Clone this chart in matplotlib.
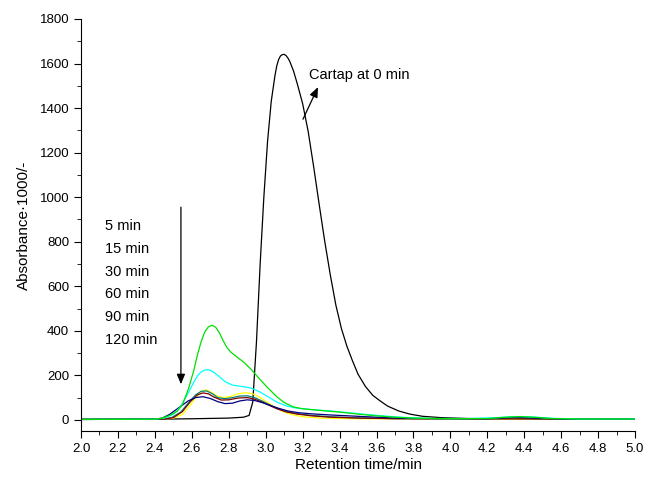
import matplotlib.pyplot as plt
from matplotlib.ticker import MultipleLocator

plt.rcParams["font.family"] = ["Liberation Sans", "DejaVu Sans"]

# Cartap at 0 min
t_0 = [2.0, 2.4, 2.6, 2.8, 2.88, 2.91, 2.93, 2.95, 2.97, 2.99, 3.01, 3.03, 3.05,
       3.06, 3.07, 3.08, 3.09, 3.10, 3.11, 3.12, 3.13, 3.15, 3.17, 3.20, 3.23,
       3.26, 3.29, 3.32, 3.35, 3.38, 3.41, 3.44, 3.47, 3.50, 3.54, 3.58, 3.62,
       3.66, 3.72, 3.78, 3.85, 3.95, 4.1, 4.5, 5.0]
a_0 = [3, 3, 5, 8, 12, 20, 80, 350, 700, 1000, 1250, 1430, 1545,
       1590, 1618, 1634, 1640, 1641, 1636, 1625, 1610, 1568, 1512, 1420, 1295,
       1135, 965, 800, 650, 515, 410, 330, 265, 205, 150, 110, 85,
       62, 40, 26, 16, 10, 6, 4, 3]

t_5 = [2.0, 2.4, 2.44, 2.48, 2.52, 2.55, 2.58, 2.61, 2.63, 2.65, 2.67, 2.69,
       2.71, 2.73, 2.75, 2.77, 2.79, 2.81, 2.84, 2.88, 2.92, 2.96, 3.01, 3.06,
       3.10, 3.15, 3.20, 3.30, 3.40, 3.50, 3.60, 3.70, 3.80, 4.0, 4.2, 4.3,
       4.38, 4.45, 4.55, 4.7, 5.0]
a_5 = [2, 3, 8, 20, 38, 70, 135, 220, 290, 350, 395, 418,
       425, 415, 390, 355, 325, 305, 285, 260, 228, 190, 145, 104,
       78, 58, 50, 42, 35, 26, 18, 12, 8, 5, 6, 12,
       15, 12, 6, 4, 4]

t_15 = [2.0, 2.4, 2.45, 2.50, 2.54, 2.58, 2.61, 2.63, 2.65, 2.67, 2.69, 2.71,
        2.74, 2.78, 2.82, 2.87, 2.92, 2.97, 3.01, 3.06, 3.11, 3.17, 3.25,
        3.35, 3.45, 3.55, 3.65, 3.75, 3.9, 4.1, 4.25, 4.35, 4.45, 4.55, 4.7,
        5.0]
a_15 = [2, 3, 8, 25, 60, 120, 168, 197, 215, 224, 225, 219,
        200, 172, 156, 150, 143, 125, 105, 80, 63, 52, 46,
        40, 32, 24, 17, 11, 6, 6, 10, 15, 13, 7, 4,
        4]

t_30 = [2.0, 2.45, 2.50, 2.55, 2.59, 2.62, 2.65, 2.68, 2.71, 2.74, 2.77, 2.81,
        2.85, 2.89, 2.93, 2.97, 3.01, 3.05, 3.10, 3.15, 3.2, 3.3, 3.5, 5.0]
a_30 = [2, 3, 8, 25, 65, 100, 128, 135, 122, 106, 100, 105,
        117, 122, 117, 100, 78, 57, 35, 22, 14, 8, 5, 4]

t_60 = [2.0, 2.44, 2.49, 2.54, 2.58, 2.62, 2.65, 2.68, 2.71, 2.74, 2.78, 2.82,
        2.86, 2.90, 2.94, 2.98, 3.02, 3.06, 3.11, 3.17, 3.25, 3.35, 3.5, 3.7,
        4.2, 4.35, 4.5, 5.0]
a_60 = [2, 3, 10, 35, 75, 112, 128, 130, 118, 100, 95, 100,
        107, 108, 100, 85, 68, 52, 38, 28, 20, 14, 9, 6,
        5, 8, 5, 4]

t_90 = [2.0, 2.45, 2.50, 2.55, 2.59, 2.63, 2.66, 2.69, 2.72, 2.76, 2.80, 2.85,
        2.90, 2.94, 2.98, 3.02, 3.06, 3.11, 3.17, 3.25, 3.35, 3.5, 3.7, 5.0]
a_90 = [2, 3, 10, 38, 80, 112, 121, 117, 102, 89, 90, 98,
        100, 93, 80, 65, 50, 36, 26, 18, 12, 8, 5, 4]

t_120 = [2.0, 2.40, 2.44, 2.48, 2.53, 2.58, 2.62, 2.66, 2.70, 2.74, 2.78, 2.82,
         2.86, 2.90, 2.94, 2.98, 3.02, 3.07, 3.12, 3.18, 3.25, 3.35, 3.45,
         3.55, 3.65, 3.8, 4.2, 4.35, 4.45, 4.6, 5.0]
a_120 = [2, 3, 8, 25, 55, 85, 100, 104, 96, 82, 73, 75,
         85, 90, 87, 78, 66, 52, 40, 32, 27, 22, 18,
         14, 10, 6, 5, 12, 9, 4, 4]

etiquetas = ["5 min", "15 min", "30 min", "60 min", "90 min", "120 min"]
etiqueta_y = [869, 765, 666, 563, 464, 360]

fig = plt.figure(figsize=(6.45, 4.78), dpi=100)
ax = fig.add_axes([0.1256, 0.0983, 0.859, 0.862])

series = [
    (t_0, a_0, "black"),
    (t_30, a_30, "#ffff00"),
    (t_60, a_60, "#008080"),
    (t_90, a_90, "#800000"),
    (t_120, a_120, "#000080"),
    (t_15, a_15, "#00ffff"),
    (t_5, a_5, "#00e000"),
]
for t, a, cor in series:
    ax.plot(t, a, color=cor, linewidth=0.9, solid_joinstyle="round")

ax.set_xlim(2.0, 5.0)
ax.set_ylim(-50, 1800)
ax.xaxis.set_major_locator(MultipleLocator(0.2))
ax.xaxis.set_minor_locator(MultipleLocator(0.1))
ax.yaxis.set_major_locator(MultipleLocator(200))
ax.yaxis.set_minor_locator(MultipleLocator(100))
ax.tick_params(which="both", direction="out", labelsize=9.5)
ax.tick_params(which="major", length=5)
ax.tick_params(which="minor", length=3)
ax.spines["top"].set_visible(False)
ax.spines["right"].set_visible(False)
ax.set_xlabel("Retention time/min", fontsize=11, labelpad=2)
ax.set_ylabel("Absorbance\u00b71000/-", fontsize=11, labelpad=6)

for texto, y in zip(etiquetas, etiqueta_y):
    ax.text(2.13, y, texto, fontsize=10.5, va="center", ha="left")

ax.annotate("", xy=(2.541, 160), xytext=(2.541, 955),
            arrowprops=dict(arrowstyle="-|>,head_width=0.25,head_length=0.6",
                            color="black", lw=0.9, mutation_scale=10,
                            shrinkA=0, shrinkB=0))
ax.annotate("", xy=(3.283, 1494), xytext=(3.202, 1350),
            arrowprops=dict(arrowstyle="-|>,head_width=0.25,head_length=0.6",
                            color="black", lw=0.9, mutation_scale=10,
                            shrinkA=0, shrinkB=0))
ax.text(3.235, 1548, "Cartap at 0 min", fontsize=10.5, va="center", ha="left")

fig.savefig("out.png", dpi=100)
